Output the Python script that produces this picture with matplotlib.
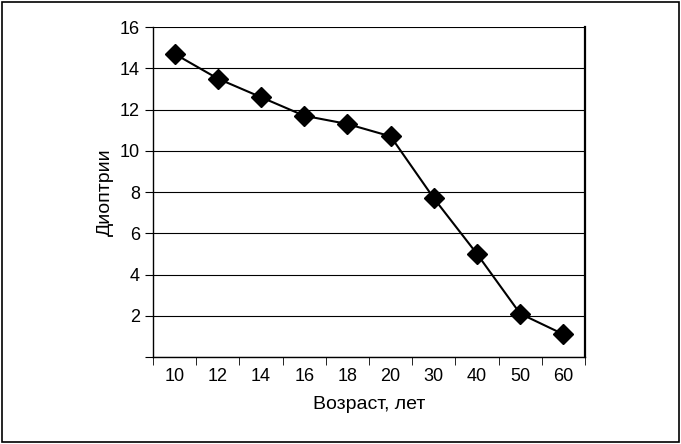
import matplotlib.pyplot as plt
from matplotlib.patches import Rectangle

plt.rcParams['font.family'] = ['Liberation Sans', 'DejaVu Sans']

ages = ['10', '12', '14', '16', '18', '20', '30', '40', '50', '60']
diopters = [14.7, 13.5, 12.6, 11.7, 11.3, 10.7, 7.7, 5.0, 2.1, 1.1]

fig = plt.figure(figsize=(6.81, 4.44), dpi=100)
ax = fig.add_axes([0.2247, 0.196, 0.6343, 0.743])

x = list(range(len(ages)))
ax.plot(x, diopters, color='black', lw=1.5, marker='D', ms=10, mfc='black', mec='black')

ax.set_xlim(-0.5, len(ages) - 0.5)
ax.set_ylim(0, 16)
ax.set_yticks(range(0, 17, 2))
ax.set_yticklabels([''] + [str(v) for v in range(2, 17, 2)])
ax.yaxis.grid(True, color='black', lw=0.8)
ax.set_axisbelow(True)

ax.set_xticks(x)
ax.set_xticklabels(ages)
ax.set_xticks([i - 0.5 for i in range(len(ages) + 1)], minor=True)
ax.tick_params(axis='x', which='major', length=0, pad=8)
ax.tick_params(axis='x', which='minor', length=6, direction='out')
ax.tick_params(axis='y', length=6, direction='out')
ax.tick_params(labelsize=13)

ax.spines['top'].set_visible(False)
ax.spines['right'].set_linewidth(1.6)
for s in ('left', 'bottom'):
    ax.spines[s].set_linewidth(1)

ax.set_xlabel('Возраст, лет', fontsize=14, labelpad=8)
ax.set_ylabel('Диоптрии', fontsize=14)

fig.patches.append(Rectangle((0.003, 0.005), 0.994, 0.99, transform=fig.transFigure,
                             fill=False, edgecolor='black', lw=1.2))

fig.savefig('out.png', dpi=100)
